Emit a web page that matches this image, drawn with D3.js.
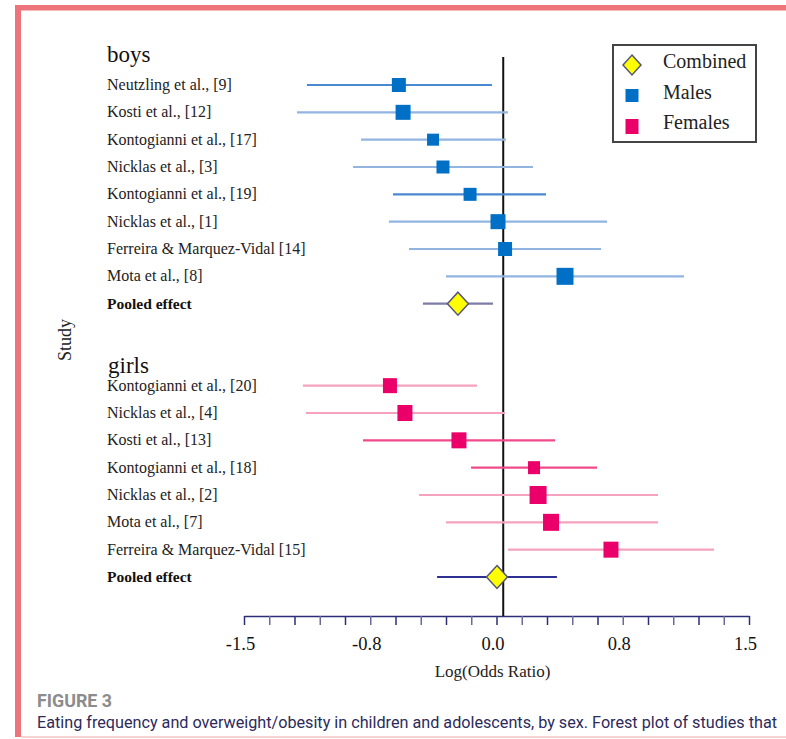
<!DOCTYPE html>
<html>
<head>
<meta charset="utf-8">
<script src="https://cdn.jsdelivr.net/npm/d3@7"></script>
<style>
  body { margin: 0; background: #fff; }
  svg { display: block; }
</style>
</head>
<body>
<svg id="chart" width="786" height="739"></svg>
<script>
// studies, log(OR) estimate, CI low, CI high, weight
const boysStudies = ["Neutzling et al., [9]", "Kosti et al., [12]", "Kontogianni et al., [17]", "Nicklas et al., [3]",
  "Kontogianni et al., [19]", "Nicklas et al., [1]", "Ferreira & Marquez-Vidal [14]", "Mota et al., [8]"]
const boysEst = [-0.58, -0.555, -0.377, -0.318, -0.157, 0.009, 0.051, 0.407]
const boysLo = [-1.126, -1.185, -0.805, -0.852, -0.615, -0.639, -0.52, -0.3]
const boysHi = [-0.027, 0.068, 0.056, 0.217, 0.294, 0.657, 0.621, 1.114]
const boysWeight = [14, 15, 12, 13, 13, 15, 14, 17]
const boysPooled = { est: -0.229, lo: -0.437, hi: -0.021 }

const girlsStudies = ["Kontogianni et al., [20]", "Nicklas et al., [4]", "Kosti et al., [13]", "Kontogianni et al., [18]",
  "Nicklas et al., [2]", "Mota et al., [7]", "Ferreira & Marquez-Vidal [15]"]
const girlsEst = [-0.633, -0.544, -0.223, 0.223, 0.247, 0.324, 0.68]
const girlsLo = [-1.15, -1.132, -0.793, -0.151, -0.46, -0.3, 0.068]
const girlsHi = [-0.116, 0.051, 0.348, 0.597, 0.959, 0.959, 1.292]
const girlsWeight = [14, 15, 15, 12, 17, 16, 15]
const girlsPooled = { est: 0.003, lo: -0.353, hi: 0.359 }

const xMinorTicks = d3.range(0, 21).map((i) => -1.5 + i * 0.15)
const xMajorTicks = [-1.5, -0.75, 0, 0.75, 1.5]
const xTickLabels = ["-1.5", "-0.8", "0.0", "0.8", "1.5"]
const refLine = 0.04
const legendItems = ["Combined", "Males", "Females"]

const serif = "'Liberation Serif', 'Times New Roman', serif"
const narrow = "'Liberation Sans Narrow', 'Roboto', sans-serif"
const maleColor = "#0070c6"
const femaleColor = "#ea0068"

const svg = d3.select("#chart")

// page frame
svg.append("rect").attr("x", 15).attr("y", 5).attr("width", 771).attr("height", 5.5).attr("fill", "#ec747a")
svg.append("rect").attr("x", 15).attr("y", 5).attr("width", 6).attr("height", 732).attr("fill", "#ec747a")
svg.append("line").attr("x1", 21).attr("x2", 786).attr("y1", 737).attr("y2", 737)
  .attr("stroke", "#f6c4c6").attr("stroke-width", 1.5)

const rowKeys = boysStudies.map((d, i) => "b" + i).concat(["bP", "gap1", "gap2"],
  girlsStudies.map((d, i) => "g" + i), ["gP"])

const x = d3.scaleLinear().domain([-1.5, 1.5]).range([244, 749])
const y = d3.scalePoint().domain(rowKeys).range([85, 577])
const size = d3.scaleLinear().domain([0, 17]).range([0, 17])

const boys = boysStudies.map((name, i) => ({
  key: "b" + i, name, est: boysEst[i], lo: boysLo[i], hi: boysHi[i], w: boysWeight[i],
}))
const girls = girlsStudies.map((name, i) => ({
  key: "g" + i, name, est: girlsEst[i], lo: girlsLo[i], hi: girlsHi[i], w: girlsWeight[i],
}))

// axis
const axisY = 616
const axis = svg.append("g")
  .attr("transform", `translate(0,${axisY})`)
  .call(d3.axisBottom(x).tickValues(xMinorTicks).tickSize(9).tickSizeOuter(0).tickPadding(12)
    .tickFormat((d) => {
      const k = xMajorTicks.findIndex((m) => Math.abs(m - d) < 1e-6)
      return k < 0 ? "" : xTickLabels[k]
    }))
axis.select(".domain").attr("stroke", "#2e2e78").attr("stroke-width", 1.5)
axis.selectAll(".tick line").attr("stroke", (d, i) => (i % 2 ? "#6a6a9a" : "#2e2e78")).attr("stroke-width", 1.5)
axis.selectAll(".tick text").attr("font-family", serif).attr("font-size", 18.5).attr("fill", "#111").attr("dx", -4)

svg.append("text")
  .attr("x", x(0) - 4).attr("y", 677).attr("text-anchor", "middle")
  .attr("font-family", serif).attr("font-size", 17).attr("fill", "#222")
  .text("Log(Odds Ratio)")

svg.append("text")
  .attr("transform", "translate(71,340) rotate(-90)").attr("text-anchor", "middle")
  .attr("font-family", serif).attr("font-size", 18).attr("fill", "#222")
  .text("Study")

// reference line
svg.append("line")
  .attr("x1", x(refLine)).attr("x2", x(refLine)).attr("y1", 57).attr("y2", axisY)
  .attr("stroke", "#111").attr("stroke-width", 2)

// group titles
svg.append("text").attr("x", 107).attr("y", y("b0") - 23)
  .attr("font-family", serif).attr("font-size", 23).attr("fill", "#111").text("boys")
svg.append("text").attr("x", 108).attr("y", y("g0") - 13)
  .attr("font-family", serif).attr("font-size", 23).attr("fill", "#111").text("girls")

// study labels
const labels = boys.concat(girls)
svg.selectAll(".study-label")
  .data(labels)
  .enter()
  .append("text")
  .attr("class", "study-label")
  .attr("x", 107)
  .attr("y", (d) => y(d.key) + 5)
  .attr("font-family", serif).attr("font-size", 16).attr("fill", "#222")
  .text((d) => d.name)

svg.selectAll(".pooled-label")
  .data(["bP", "gP"])
  .enter()
  .append("text")
  .attr("x", 107).attr("y", (d) => y(d) + 5)
  .attr("font-family", serif).attr("font-size", 15.5).attr("font-weight", "bold").attr("fill", "#111")
  .text("Pooled effect")

// confidence intervals
const darkBoys = new Set(["b0", "b4"])
const darkGirls = new Set(["g2", "g3"])
svg.selectAll(".ci-boys")
  .data(boys)
  .enter()
  .append("line")
  .attr("x1", (d) => x(d.lo)).attr("x2", (d) => x(d.hi))
  .attr("y1", (d) => y(d.key)).attr("y2", (d) => y(d.key))
  .attr("stroke", (d) => (darkBoys.has(d.key) ? "#4a88d0" : "#92b4e0"))
  .attr("stroke-width", 2.2)

svg.selectAll(".ci-girls")
  .data(girls)
  .enter()
  .append("line")
  .attr("x1", (d) => x(d.lo)).attr("x2", (d) => x(d.hi))
  .attr("y1", (d) => y(d.key)).attr("y2", (d) => y(d.key))
  .attr("stroke", (d) => (darkGirls.has(d.key) ? "#f04a8a" : "#f5a2bf"))
  .attr("stroke-width", 2.2)

// squares
svg.selectAll(".sq-boys")
  .data(boys)
  .enter()
  .append("rect")
  .attr("x", (d) => x(d.est) - size(d.w) / 2)
  .attr("y", (d) => y(d.key) - size(d.w) / 2)
  .attr("width", (d) => size(d.w))
  .attr("height", (d) => size(d.w))
  .attr("fill", maleColor)

svg.selectAll(".sq-girls")
  .data(girls)
  .enter()
  .append("rect")
  .attr("x", (d) => x(d.est) - size(d.w) / 2)
  .attr("y", (d) => y(d.key) - size(d.w) / 2 - 0.5)
  .attr("width", (d) => size(d.w))
  .attr("height", (d) => size(d.w) + 1)
  .attr("fill", femaleColor)

// pooled effects
const diamond = (cx, cy, w, h) => `M${cx},${cy - h / 2}L${cx + w / 2},${cy}L${cx},${cy + h / 2}L${cx - w / 2},${cy}Z`
const pooled = [
  { key: "bP", ...boysPooled, color: "#7c7ca6" },
  { key: "gP", ...girlsPooled, color: "#2e3192" },
]
svg.selectAll(".ci-pooled")
  .data(pooled)
  .enter()
  .append("line")
  .attr("x1", (d) => x(d.lo)).attr("x2", (d) => x(d.hi))
  .attr("y1", (d) => y(d.key)).attr("y2", (d) => y(d.key))
  .attr("stroke", (d) => d.color)
  .attr("stroke-width", 2.2)

svg.selectAll(".diamond")
  .data(pooled)
  .enter()
  .append("path")
  .attr("d", (d) => diamond(x(d.est), y(d.key), 21, 23))
  .attr("fill", "#ffff00")
  .attr("stroke", "#55557a")
  .attr("stroke-width", 1.5)

// legend
const legend = svg.append("g")
legend.append("rect")
  .attr("x", 613).attr("y", 45).attr("width", 143).attr("height", 97)
  .attr("fill", "#fff").attr("stroke", "#444").attr("stroke-width", 2)
const legendY = d3.scalePoint().domain(legendItems).range([65, 126])
legend.append("path")
  .attr("d", diamond(632, legendY("Combined"), 18, 20))
  .attr("fill", "#ffff00").attr("stroke", "#55557a").attr("stroke-width", 1.5)
legend.append("rect")
  .attr("x", 625.5).attr("y", legendY("Males") - 6.5).attr("width", 13).attr("height", 13)
  .attr("fill", maleColor)
legend.append("rect")
  .attr("x", 625.5).attr("y", legendY("Females") - 7).attr("width", 13).attr("height", 15)
  .attr("fill", femaleColor)
legend.selectAll(".legend-text")
  .data(legendItems)
  .enter()
  .append("text")
  .attr("x", 663).attr("y", (d) => legendY(d) + 3)
  .attr("font-family", serif).attr("font-size", 20).attr("fill", "#222")
  .text((d) => d)

// caption
svg.append("text")
  .attr("x", 37).attr("y", 707)
  .attr("font-family", narrow).attr("font-size", 18).attr("font-weight", "bold").attr("fill", "#8c8c8c")
  .attr("textLength", 75).attr("lengthAdjust", "spacingAndGlyphs")
  .text("FIGURE 3")
svg.append("text")
  .attr("x", 37).attr("y", 728)
  .attr("font-family", narrow).attr("font-size", 16).attr("fill", "#2c2a5c")
  .attr("textLength", 740).attr("lengthAdjust", "spacingAndGlyphs")
  .text("Eating frequency and overweight/obesity in children and adolescents, by sex. Forest plot of studies that")
</script>
</body>
</html>
